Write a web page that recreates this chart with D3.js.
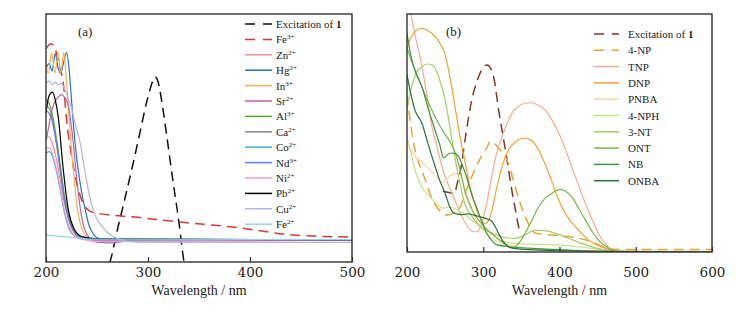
<!DOCTYPE html>
<html>
<head>
<meta charset="UTF-8">
<title></title>
<script src="https://d3js.org/d3.v7.min.js"></script>
<style>
    body{margin:0;background:#fff;}
    text{font-family:"Liberation Serif","Times New Roman",serif;fill:#222;}
</style>
</head>
<body>
<script>
    // ---- panel (a): metal ions, 200-500 nm, values are relative absorbance (0..1 of the frame)
    var namesA = ["Excitation of 1","Fe3+","Zn2+","Hg2+","In3+","Sr2+","Al3+","Ca2+","Co2+","Nd3+","Ni2+","Pb2+","Cu2+","Fe2+"];
    var xTicksA = [200,300,400,500];

    var excA  = [[255,-0.06],[262.7,0],[270,0.13],[277,0.25],[285,0.39],[292,0.52],[299,0.65],[303,0.71],[307,0.746],[310,0.725],[313,0.66],[318,0.52],[324,0.34],[330,0.17],[335.3,0],[339,-0.08]];
    var fe3A  = [[200,0.86],[205,0.88],[209,0.86],[213,0.79],[217,0.72],[220,0.58],[225,0.43],[230,0.32],[236,0.24],[243,0.205],[250,0.197],[290,0.18],[331,0.161],[383,0.141],[442,0.109],[470,0.103],[500,0.101]];
    var zn2A  = [[200,0.5],[203,0.505],[206,0.48],[210,0.42],[214,0.33],[218,0.24],[222,0.17],[227,0.12],[232,0.098],[240,0.09],[270,0.085],[500,0.088]];
    var hg2A  = [[200,0.78],[203,0.8],[206,0.77],[209,0.84],[212,0.78],[214.4,0.76],[217,0.8],[220.3,0.845],[223,0.76],[226,0.6],[228.5,0.48],[232,0.36],[235,0.28],[238,0.22],[242,0.15],[246,0.115],[252,0.095],[265,0.09],[500,0.089]];
    var in3A  = [[200,0.8],[202.3,0.76],[205.6,0.845],[208.8,0.76],[212,0.845],[214.4,0.76],[217.5,0.845],[219.5,0.76],[222,0.62],[225,0.45],[228,0.32],[230.5,0.22],[234,0.15],[238,0.11],[243,0.095],[255,0.09],[361,0.089]];
    var sr2A  = [[200,0.49],[202,0.53],[205,0.6],[208,0.64],[211,0.66],[213,0.67],[215,0.675],[217,0.67],[219,0.66],[222,0.63],[226.5,0.49],[231,0.3],[236,0.16],[242,0.1],[250,0.08],[262,0.077],[280,0.084],[500,0.088]];
    var al3A  = [[200,0.655],[203,0.64],[206,0.6],[209,0.53],[212,0.45],[215,0.36],[218,0.27],[222,0.19],[227,0.13],[234,0.1],[245,0.092],[500,0.089]];
    var ca2A  = [[200,0.63],[203,0.62],[206,0.58],[209,0.51],[212,0.43],[215,0.34],[218,0.26],[222,0.18],[228,0.12],[235,0.098],[250,0.09],[361,0.089]];
    var co2A  = [[200,0.44],[203,0.445],[206,0.43],[210,0.37],[214,0.29],[218,0.2],[222,0.14],[228,0.105],[236,0.093],[260,0.088],[500,0.089]];
    var nd3A  = [[200,0.61],[203,0.6],[206,0.57],[209,0.51],[212,0.43],[215,0.34],[218,0.25],[222,0.18],[228,0.12],[236,0.097],[250,0.09],[500,0.088]];
    var ni2A  = [[200,0.46],[203,0.46],[206,0.44],[210,0.38],[214,0.3],[218,0.21],[222,0.15],[228,0.105],[235,0.092],[250,0.083],[280,0.083],[500,0.088]];
    var pb2A  = [[200,0.6],[203,0.67],[206.5,0.685],[209,0.655],[212,0.585],[216.5,0.39],[221.5,0.22],[228,0.13],[236,0.101],[253,0.093],[500,0.089]];
    var cu2A  = [[200,0.72],[203,0.73],[206,0.715],[209,0.725],[212,0.715],[215,0.72],[218,0.7],[221,0.67],[225,0.62],[229,0.55],[233,0.49],[238,0.37],[242,0.28],[247,0.2],[254,0.15],[260,0.12],[267,0.1],[275,0.088],[290,0.08],[500,0.079]];
    var fe2A  = [[200,0.109],[230,0.097],[250,0.092],[500,0.09]];
    var seriesA = [excA,fe3A,zn2A,hg2A,in3A,sr2A,al3A,ca2A,co2A,nd3A,ni2A,pb2A,cu2A,fe2A];

    // ---- panel (b): nitro compounds, 200-600 nm
    var namesB = ["Excitation of 1","4-NP","TNP","DNP","PNBA","4-NPH","3-NT","ONT","NB","ONBA"];
    var xTicksB = [200,300,400,500,600];

    var excB  = [[247,0.255],[255,0.25],[262,0.245],[266,0.29],[270,0.34],[277,0.49],[285,0.64],[292,0.72],[298,0.765],[305,0.786],[310,0.77],[314,0.73],[320,0.6],[329,0.43],[338,0.25],[342,0.18],[346.5,0.105],[349,0.075]];
    var np4B  = [[200,0.66],[203,0.58],[208,0.47],[217,0.36],[222,0.32],[230,0.246],[240,0.185],[246,0.165],[252,0.155],[258,0.158],[264,0.172],[270,0.19],[278,0.26],[291,0.36],[300,0.415],[305,0.44],[309,0.465],[315,0.455],[320,0.437],[331,0.387],[337,0.33],[342,0.273],[348,0.21],[353,0.164],[360,0.115],[368,0.08],[380,0.074],[390,0.071],[410,0.065],[425,0.058],[440,0.045],[460,0.02],[475,0.01],[490,0.01],[600,0.01]];
    var tnpB  = [[200,1.075],[205,1.0],[212,0.89],[219.7,0.779],[226,0.66],[232.8,0.526],[239,0.447],[246,0.358],[252,0.3],[259,0.247],[265,0.2],[270,0.163],[276,0.125],[281,0.1],[287,0.085],[292,0.085],[297,0.11],[303,0.18],[309,0.28],[315,0.38],[322,0.46],[330,0.53],[339,0.59],[347,0.613],[355,0.625],[364,0.627],[372,0.617],[381,0.597],[390,0.555],[399,0.5],[408,0.43],[416,0.358],[425,0.28],[434,0.204],[443,0.135],[451,0.078],[460,0.035],[469,0.01],[480,0],[491,-0.004],[505,0],[600,0]];
    var dnpB  = [[200,0.855],[205,0.9],[212,0.93],[218,0.94],[224,0.936],[232,0.92],[241.6,0.885],[250,0.83],[256,0.74],[261,0.65],[266,0.55],[271,0.46],[276,0.38],[281,0.3],[285,0.245],[290,0.19],[294,0.155],[298,0.13],[302,0.12],[306,0.128],[311,0.17],[317,0.26],[324,0.35],[331,0.415],[338,0.45],[345,0.47],[353,0.478],[360,0.474],[366,0.46],[372.8,0.429],[379,0.385],[386,0.331],[394,0.26],[403,0.19],[412,0.14],[421,0.106],[430,0.075],[438,0.05],[449,0.03],[460,0.016],[472,0.006],[486,0],[600,0]];
    var pnbaB = [[200,0.46],[203,0.44],[210,0.405],[218,0.38],[226,0.358],[233,0.335],[239,0.316],[243,0.3],[247.6,0.29],[251,0.3],[256,0.318],[263,0.33],[269.5,0.323],[274,0.29],[278,0.247],[283,0.2],[287,0.163],[295,0.11],[304.5,0.079],[315,0.05],[335,0.03],[361,0.016],[400,0.01],[450,0.005],[600,0.003]];
    var nph4B = [[200,0.48],[205,0.42],[212,0.33],[220,0.27],[230,0.232],[240,0.2],[248,0.184],[254,0.19],[260,0.186],[267,0.175],[274,0.163],[282,0.14],[291,0.12],[304,0.092],[313,0.07],[322,0.05],[330,0.042],[340,0.036],[360,0.033],[395,0.03],[430,0.02],[460,0.008],[490,0.002],[600,0.002]];
    var nt3B  = [[200,0.6],[205,0.68],[212,0.75],[220,0.78],[227,0.79],[232.8,0.786],[240,0.75],[245,0.7],[250,0.639],[256,0.53],[261,0.43],[265,0.36],[270,0.28],[276,0.2],[285,0.15],[295,0.11],[303,0.092],[315,0.075],[330,0.06],[342,0.057],[355,0.072],[368,0.092],[380,0.09],[395,0.078],[410,0.06],[430,0.035],[450,0.015],[470,0.004],[490,0],[600,0]];
    var ontB  = [[200,0.86],[206,0.8],[215,0.73],[225,0.65],[235,0.58],[245,0.52],[255,0.47],[263,0.42],[270,0.34],[276.5,0.247],[285,0.18],[294,0.134],[305,0.095],[316,0.064],[328,0.035],[338,0.016],[345,0.03],[355,0.079],[364,0.135],[372.7,0.19],[381,0.225],[390,0.247],[396,0.258],[401,0.263],[408,0.255],[416,0.232],[425,0.185],[434,0.134],[443,0.085],[451,0.05],[460,0.025],[469,0.008],[480,0],[600,0]];
    var nbB   = [[200,0.92],[203,0.86],[207,0.8],[212,0.75],[220,0.69],[228,0.6],[237,0.51],[243,0.45],[248,0.395],[252,0.405],[256,0.415],[262,0.415],[267,0.405],[272,0.37],[278,0.316],[284,0.25],[291,0.19],[298,0.13],[304.5,0.079],[311,0.05],[318,0.03],[335,0.022],[400,0.01],[480,0],[600,0]];
    var onbaB = [[200,0.745],[204,0.68],[210,0.6],[219.7,0.54],[228,0.45],[237,0.358],[243,0.3],[250,0.247],[256,0.19],[260,0.168],[265,0.16],[272,0.157],[280,0.16],[288,0.155],[296,0.148],[304,0.14],[311,0.13],[316,0.105],[320,0.079],[326,0.045],[332,0.025],[340,0.015],[400,0.005],[600,0]];
    var seriesB = [excB,np4B,tnpB,dnpB,pnbaB,nph4B,nt3B,ontB,nbB,onbaB];

    var colorsA = ["#111111","#d9383a","#f28e8e","#2c72b8","#f2b25c","#c162a0","#5aa832","#8a8a8a","#40aee8","#5b7fd6","#f59acb","#000000","#b4b4e2","#92d3f2"];
    var colorsB = ["#7a3b2a","#e8a23c","#f5ab8e","#f7a133","#fdd3a6","#c6e08c","#a6cd66","#7ab64a","#3f913e","#2b6f3a"];

    var svg = d3.select("body").append("svg")
            .attr("width",743)
            .attr("height",311);

    function drawPanel(p){
        var x = d3.scaleLinear().domain(p.xdomain).range([p.left,p.right]);
        var y = d3.scaleLinear().domain([0,1]).range([p.bottom,p.top]);
        var g = svg.append("g");

        g.append("clipPath").attr("id","clip"+p.id)
                .append("rect")
                .attr("x",p.left).attr("y",p.top)
                .attr("width",p.right-p.left).attr("height",p.bottom-p.top);

        var line = d3.line()
                .x(function(d){return x(d[0]);})
                .y(function(d){return y(d[1]);})
                .curve(d3.curveMonotoneX);

        g.append("g").attr("clip-path","url(#clip"+p.id+")")
                .selectAll("path")
                .data(p.series)
                .enter()
                .append("path")
                .attr("d",line)
                .attr("fill","none")
                .attr("stroke",function(d,i){return p.colors[i];})
                .attr("stroke-width",function(d,i){return i<p.dashed ? 1.5 : 1.2;})
                .attr("stroke-dasharray",function(d,i){return i<p.dashed ? "10,6" : null;});

        // frame
        g.append("rect")
                .attr("x",p.left).attr("y",p.top)
                .attr("width",p.right-p.left).attr("height",p.bottom-p.top)
                .attr("fill","none")
                .attr("stroke","#333")
                .attr("stroke-width",1.4);

        var gx = g.append("g")
                .attr("transform","translate(0,"+p.bottom+")")
                .call(d3.axisBottom(x).tickValues(p.ticks).tickSizeInner(-5).tickSizeOuter(0));
        gx.select(".domain").remove();
        gx.selectAll("line").attr("stroke","#333").attr("stroke-width",1.2);
        gx.selectAll("text")
                .attr("y",277-p.bottom)
                .attr("dy",0)
                .attr("fill","#222")
                .style("font-family","'DejaVu Serif',serif")
                .style("font-size","13.5px");

        g.append("text")
                .attr("x",(p.left+p.right)/2)
                .attr("y",295)
                .attr("text-anchor","middle")
                .style("font-size","14px")
                .text("Wavelength / nm");

        g.append("text")
                .attr("x",p.tagX).attr("y",36)
                .style("font-size","13px")
                .text(p.tag);

        // legend
        var lg = g.append("g");
        p.names.forEach(function(n,i){
            var ly = p.legY + i*p.legStep;
            lg.append("line")
                    .attr("x1",p.legX1).attr("x2",p.legX2)
                    .attr("y1",ly).attr("y2",ly)
                    .attr("stroke",p.colors[i])
                    .attr("stroke-width",1.5)
                    .attr("stroke-dasharray",i<p.dashed ? "10,8" : null);
            var t = lg.append("text")
                    .attr("x",p.legText).attr("y",ly+4)
                    .style("font-size","11px");
            var m = n.match(/^([A-Za-z]+)(\d\+)$/);
            if(n==="Excitation of 1"){
                t.append("tspan").text("Excitation of ");
                t.append("tspan").attr("font-weight","bold").text("1");
            } else if(m){
                t.append("tspan").text(m[1]);
                t.append("tspan").attr("dy",-4).style("font-size","7px").text(m[2]);
            } else {
                t.text(n);
            }
        });
    }

    drawPanel({id:"a",xdomain:[200,500],left:46,right:352,top:14,bottom:262,ticks:xTicksA,
        series:seriesA,colors:colorsA,names:namesA,dashed:2,tag:"(a)",tagX:78,
        legX1:245,legX2:272,legText:276,legY:24,legStep:15.4});
    drawPanel({id:"b",xdomain:[200,600],left:407,right:712,top:14,bottom:252,ticks:xTicksB,
        series:seriesB,colors:colorsB,names:namesB,dashed:2,tag:"(b)",tagX:446,
        legX1:594,legX2:619,legText:628,legY:34,legStep:16.3});
</script>
</body>
</html>
